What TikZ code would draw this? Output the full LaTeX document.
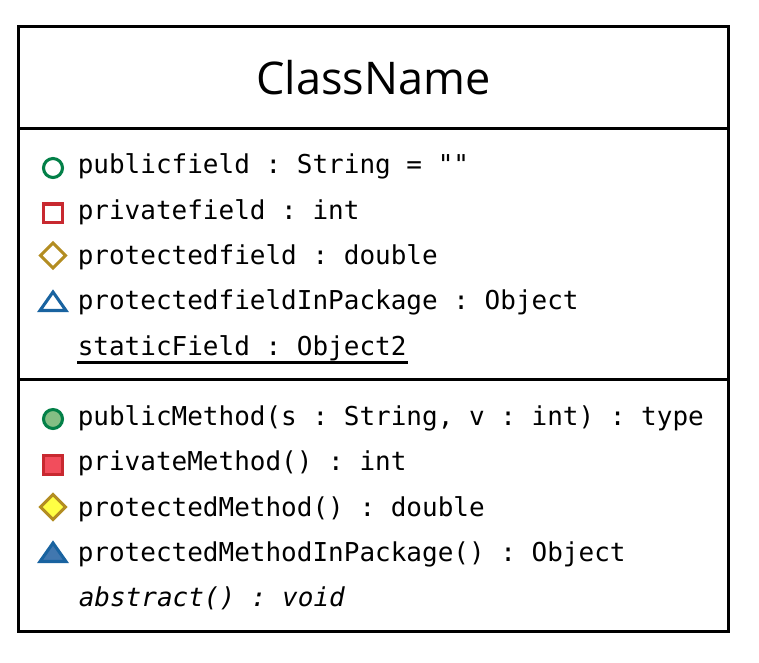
\documentclass[tikz,border=0pt]{standalone}
\usepackage{fontspec}
\setmainfont{Open Sans}
\setmonofont{DejaVu Sans Mono}
\usepackage{tikz}
\usetikzlibrary{positioning, calc}
\definecolor{publine}{HTML}{038048}
\definecolor{pubfill}{HTML}{84BE84}
\definecolor{privline}{HTML}{C82930}
\definecolor{privfill}{HTML}{F24D5C}
\definecolor{protline}{HTML}{B38D22}
\definecolor{protfill}{HTML}{FFFF44}
\definecolor{pkgline}{HTML}{1963A0}
\definecolor{pkgfill}{HTML}{4177AF}
\tikzset{
    member/.style={anchor=base west, inner sep=0pt, font=\ttfamily\fontsize{19.5}{24}\selectfont},
    divider/.style={line width=2.25pt},
    icon/.style={line width=2.3pt, line join=miter},
}
\begin{document}
\begin{tikzpicture}[x=0.75pt, y=-0.75pt]
    \useasboundingbox (0,0) rectangle (759,662);
    \def\tx{77.5}
    % outer box and compartments
    \draw[divider] (18,26) rectangle (728.5,631);
    \draw[divider] (18,128) -- (728.5,128);
    \draw[divider] (18,379) -- (728.5,379);
    \node[font=\fontsize{33.8}{40}\selectfont] (title) at (373.5,78) {ClassName};
    % fields
    \node[member] (publicfield) at (\tx,173.5) {publicfield : String = ""};
    \node[member] (privatefield) at (\tx,219) {privatefield : int};
    \node[member] (protectedfield) at (\tx,264.5) {protectedfield : double};
    \node[member] (packagefield) at (\tx,309.5) {protectedfieldInPackage : Object};
    \node[member] (staticfield) at (\tx,355) {staticField : Object2};
    \draw[divider] (77,362) -- (408,362);
    % methods
    \node[member] (publicmethod) at (\tx,425.5) {publicMethod(s : String, v : int) : type};
    \node[member] (privatemethod) at (\tx,470.5) {privateMethod() : int};
    \node[member] (protectedmethod) at (\tx,516.5) {protectedMethod() : double};
    \node[member] (packagemethod) at (\tx,561.5) {protectedMethodInPackage() : Object};
    \node[member] (abstractmethod) at (78.5,606.5) {\itshape abstract() : void};
    % field icons
    \draw[icon, draw=publine] (53,168) circle (9.5);
    \draw[icon, draw=privline] (43.5,204) rectangle (62.5,222.5);
    \draw[icon, draw=protline] (53,243) -- (65.5,255.5) -- (53,268) -- (40.5,255.5) -- cycle;
    \draw[icon, draw=pkgline] (53,292) -- (66,310.5) -- (40,310.5) -- cycle;
    % method icons
    \draw[icon, draw=publine, fill=pubfill] (53,419) circle (9.5);
    \draw[icon, draw=privline, fill=privfill] (43.5,455.5) rectangle (62.5,474.5);
    \draw[icon, draw=protline, fill=protfill] (53,494.5) -- (65.5,507) -- (53,519.5) -- (40.5,507) -- cycle;
    \draw[icon, draw=pkgline, fill=pkgfill] (53,543) -- (66,561.5) -- (40,561.5) -- cycle;
\end{tikzpicture}
\end{document}
